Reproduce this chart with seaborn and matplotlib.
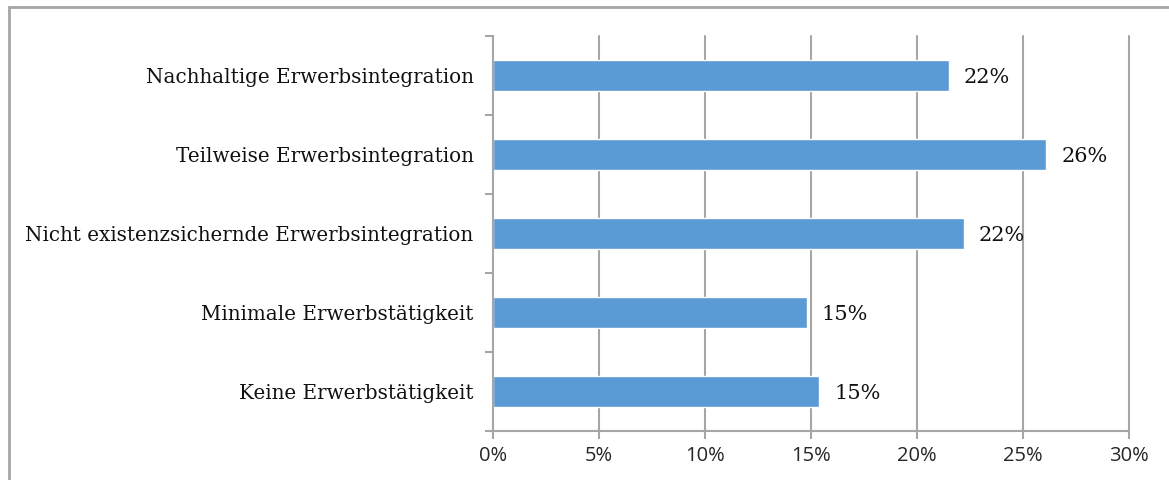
import pandas as pd
import matplotlib.pyplot as plt
import seaborn as sns
from matplotlib.patches import Rectangle
from matplotlib.ticker import FixedLocator, PercentFormatter

# Data
categories = [
    'Nachhaltige Erwerbsintegration',
    'Teilweise Erwerbsintegration',
    'Nicht existenzsichernde Erwerbsintegration',
    'Minimale Erwerbstätigkeit',
    'Keine Erwerbstätigkeit',
]
shares = [21.5, 26.1, 22.2, 14.8, 15.4]
value_labels = ['22%', '26%', '22%', '15%', '15%']

df = pd.DataFrame({'Kategorie': categories, 'Anteil': shares})

sns.set_style('white')
grid_col = '#a6a6a6'
text_col = '#111111'

fig = plt.figure(figsize=(11.69, 4.8), dpi=100)
ax = fig.add_axes([493 / 1169, 1 - 431 / 480, 636 / 1169, 395 / 480])

sns.barplot(data=df, x='Anteil', y='Kategorie', color='#5b9bd5',
            saturation=1, width=0.4, ax=ax)

ax.set_xlim(0, 30)
ax.set_ylim(4.5, -0.5)
ax.set_xticks(range(0, 31, 5))
ax.xaxis.set_major_formatter(PercentFormatter(decimals=0))
ax.set_xlabel('')
ax.set_ylabel('')

# vertical grid lines
for x in range(5, 31, 5):
    ax.axvline(x, color=grid_col, lw=1.5, zorder=0, clip_on=False)

for s in ['top', 'right']:
    ax.spines[s].set_visible(False)
for s in ['left', 'bottom']:
    ax.spines[s].set_color(grid_col)
    ax.spines[s].set_linewidth(1.5)

# category tick labels
ax.tick_params(axis='y', which='both', left=True)
ax.tick_params(axis='y', which='major', length=0, pad=14)
ax.yaxis.set_minor_locator(FixedLocator([i - 0.5 for i in range(6)]))
ax.tick_params(axis='y', which='minor', length=6, width=1.5, color=grid_col, direction='out')
for lab in ax.get_yticklabels():
    lab.set_fontfamily('DejaVu Serif')
    lab.set_fontsize(14.3)
    lab.set_color(text_col)

ax.tick_params(axis='x', bottom=True, length=6, width=1.5, color=grid_col,
               direction='out', pad=5)
for lab in ax.get_xticklabels():
    lab.set_fontfamily('Open Sans')
    lab.set_fontsize(14.5)
    lab.set_color('#262626')

# value labels
for p, txt in zip(ax.patches, value_labels):
    ax.text(p.get_width() + 0.7, p.get_y() + p.get_height() / 2 + 0.03, txt,
            ha='left', va='center', fontsize=15, family='DejaVu Serif',
            color=text_col)

# outer gray frame
fig.patches.append(Rectangle((9 / 1169, -0.1), 1.2, 1 - 7 / 480 + 0.1,
                             transform=fig.transFigure, fill=False,
                             edgecolor='#a6a6a6', lw=2))

fig.savefig('out.png', dpi=100)
plt.close(fig)
